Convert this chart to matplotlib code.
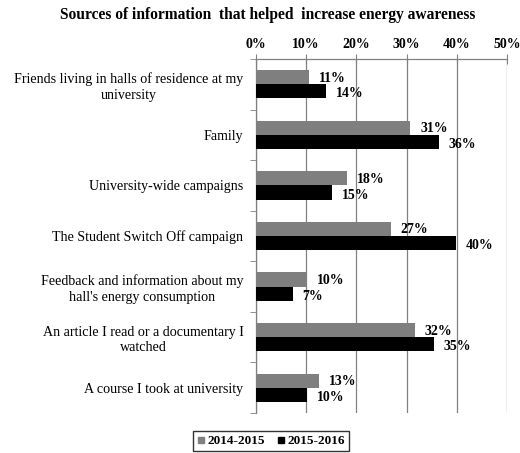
import numpy as np
import matplotlib.pyplot as plt
from matplotlib.lines import Line2D

plt.rcParams['font.family'] = ['Liberation Serif', 'DejaVu Serif']

categories = [
    'Friends living in halls of residence at my\nuniversity',
    'Family',
    'University-wide campaigns',
    'The Student Switch Off campaign',
    'Feedback and information about my\nhall\'s energy consumption',
    'An article I read or a documentary I\nwatched',
    'A course I took at university',
]
series_names = ['2014-2015', '2015-2016']
vals_1415 = [10.6, 30.7, 18.1, 26.8, 10.1, 31.6, 12.6]
vals_1516 = [14.0, 36.4, 15.1, 39.8, 7.3, 35.4, 10.1]
x_ticks = [0, 10, 20, 30, 40, 50]

fig = plt.figure(figsize=(5.2, 4.53), dpi=100)
ax = fig.add_axes([0.4923, 0.0883, 0.4827, 0.7815])

n = len(categories)
y = np.arange(n)
h = 0.28
ax.barh(y - h / 2, vals_1415, height=h, color='#7f7f7f', zorder=3)
ax.barh(y + h / 2, vals_1516, height=h, color='black', zorder=3)

for i in range(n):
    ax.text(vals_1415[i] + 2.0, y[i] - h / 2 + 0.02, f'{vals_1415[i]:.0f}%',
            va='center', ha='left', fontsize=10, fontweight='bold')
    ax.text(vals_1516[i] + 2.0, y[i] + h / 2 + 0.05, f'{vals_1516[i]:.0f}%',
            va='center', ha='left', fontsize=10, fontweight='bold')

ax.set_xlim(0, 50)
ax.set_ylim(n - 0.5, -0.5)
ax.xaxis.tick_top()
ax.set_xticks(x_ticks)
ax.set_xticklabels([f'{t}%' for t in x_ticks], fontsize=10, fontweight='bold')
ax.tick_params(axis='x', direction='inout', length=7, color='#808080', pad=2)
ax.grid(axis='x', color='#808080', linewidth=0.9, zorder=0)

ax.set_yticks(y)
ax.set_yticklabels(categories, fontsize=10.1, multialignment='center', linespacing=1.25)
ax.tick_params(axis='y', length=0, pad=9)
ax.set_yticks(np.arange(n + 1) - 0.5, minor=True)
ax.tick_params(axis='y', which='minor', length=4, direction='out', color='#808080')

for s in ['right', 'bottom']:
    ax.spines[s].set_visible(False)
for s in ['left', 'top']:
    ax.spines[s].set_color('#808080')
    ax.spines[s].set_linewidth(0.9)

fig.text(0.515, 0.967, 'Sources of information  that helped  increase energy awareness',
         ha='center', va='center', fontsize=11.2, fontweight='bold')

handles = [Line2D([], [], marker='s', linestyle='', color='#7f7f7f', markersize=4),
           Line2D([], [], marker='s', linestyle='', color='black', markersize=4)]
leg = fig.legend(handles, series_names, loc='center', bbox_to_anchor=(0.521, 0.026),
                 ncol=2, frameon=True, fancybox=False, edgecolor='black',
                 prop={'weight': 'bold', 'size': 9.5}, handlelength=0.6,
                 handletextpad=0.2, columnspacing=0.9, borderpad=0.3)
leg.get_frame().set_linewidth(1.0)

fig.savefig('out.png', dpi=100)
